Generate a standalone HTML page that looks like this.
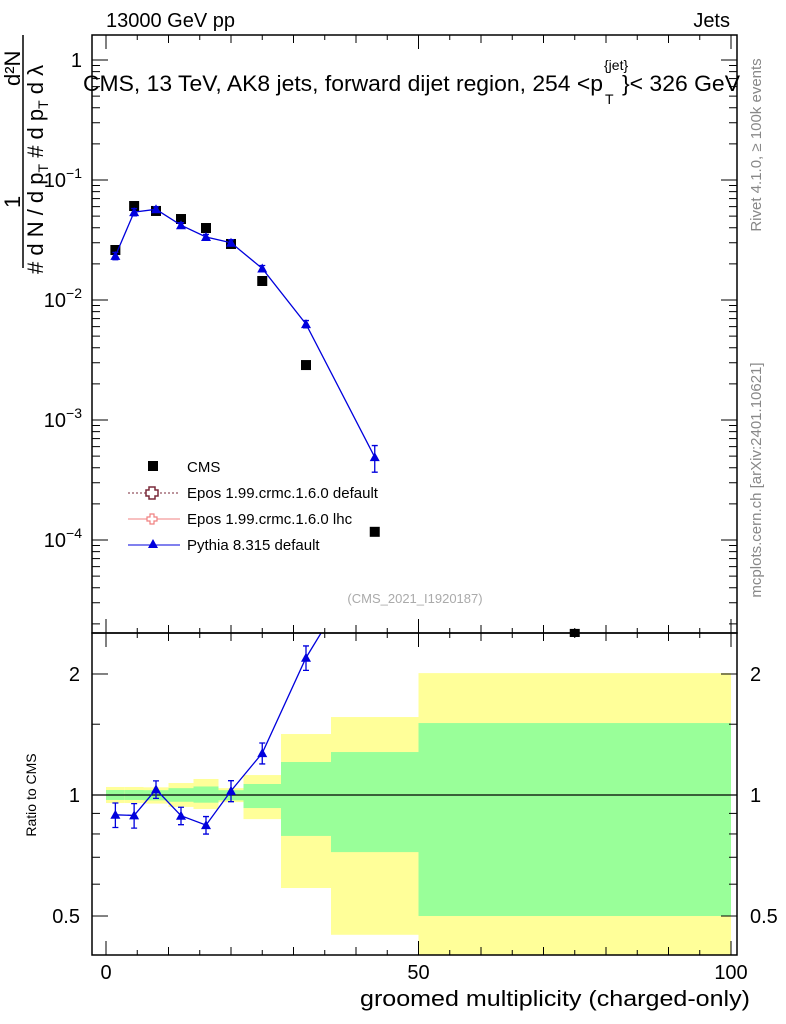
<!DOCTYPE html>
<html><head><meta charset="utf-8">
<style>
html,body{margin:0;padding:0;background:#fff;}
svg{display:block;font-family:"Liberation Sans",sans-serif;}
</style></head>
<body>
<svg id="chart" width="786" height="1024" viewBox="0 0 786 1024" xmlns="http://www.w3.org/2000/svg">
<g id="bands"></g>
<g id="marks"></g>
<g id="axes"></g>
<text x="106" y="27" font-size="20">13000 GeV pp</text>
<text x="730" y="27" font-size="20" text-anchor="end">Jets</text>
<text x="415" y="603" font-size="13" fill="#aaa" text-anchor="middle">(CMS_2021_I1920187)</text>
<text transform="translate(761,145) rotate(-90)" font-size="15" fill="#888" text-anchor="middle">Rivet 4.1.0, ≥ 100k events</text>
<text transform="translate(761,480) rotate(-90)" font-size="15" fill="#888" text-anchor="middle">mcplots.cern.ch [arXiv:2401.10621]</text>
<g>
<text x="83" y="91" font-size="22" textLength="520" lengthAdjust="spacingAndGlyphs">CMS, 13 TeV, AK8 jets, forward dijet region, 254 &lt;p</text>
<text x="604" y="70" font-size="14">{jet}</text>
<text x="605" y="104" font-size="14">T</text>
<text x="622" y="91" font-size="22" textLength="118" lengthAdjust="spacingAndGlyphs">}&lt; 326 GeV</text>
</g>
<g font-size="22">
<line x1="23" y1="35" x2="23" y2="268" stroke="#000" stroke-width="1.5"/>
<text transform="translate(20,208) rotate(-90)">1</text>
<text transform="translate(20,86) rotate(-90)">d²N</text>
<text transform="translate(43,274) rotate(-90)"># d N / d p<tspan font-size="14" dy="5">T</tspan><tspan dy="-5"> # d p</tspan><tspan font-size="14" dy="5">T</tspan><tspan dy="-5">  d λ</tspan></text>
</g>
<text transform="translate(36,795) rotate(-90)" font-size="14" text-anchor="middle">Ratio to CMS</text>
<text x="360" y="1006" font-size="22" textLength="390" lengthAdjust="spacingAndGlyphs">groomed multiplicity (charged-only)</text>
<g font-size="15">
<rect x="148" y="461" width="10" height="10" fill="#000"/>
<text x="187" y="472">CMS</text>
<line x1="128" y1="493" x2="180" y2="493" stroke="#7a2a3a" stroke-dasharray="2,2"/>
<path d="M149,487h6v3h3v6h-3v3h-6v-3h-3v-6h3z" fill="#fff" stroke="#7a2a3a" stroke-width="1.5"/>
<text x="187" y="498">Epos 1.99.crmc.1.6.0 default</text>
<line x1="128" y1="519" x2="180" y2="519" stroke="#f08080"/>
<path d="M150,514h4v3h3v4h-3v3h-4v-3h-3v-4h3z" fill="#fff" stroke="#f08080" stroke-width="1.2"/>
<text x="187" y="524">Epos 1.99.crmc.1.6.0 lhc</text>
<line x1="128" y1="545" x2="180" y2="545" stroke="#0000dd"/>
<path d="M153,539l5,9h-10z" fill="#0000dd"/>
<text x="187" y="550">Pythia 8.315 default</text>
</g>
</svg>
<script>
const binEdges=[0,3,6,10,14,18,22,28,36,50,100];
const cmsValues=[0.0261,0.0607,0.0552,0.0473,0.0398,0.0293,0.0144,0.00287,0.000117,0.0000165];
const pythiaValues=[0.0233,0.054,0.057,0.042,0.0335,0.030,0.0183,0.0063,0.00049];
const pythiaRelErr=[0.07,0.07,0.05,0.05,0.05,0.06,0.06,0.07,0.25];
const yellowHi=[1.047,1.047,1.045,1.071,1.096,1.040,1.121,1.418,1.563,2.01];
const yellowLo=[0.955,0.955,0.952,0.934,0.923,0.960,0.871,0.587,0.449,0.35];
const greenHi=[1.029,1.029,1.028,1.040,1.050,1.028,1.065,1.208,1.279,1.51];
const greenLo=[0.972,0.972,0.970,0.962,0.957,0.970,0.928,0.791,0.721,0.50];
const xTicksMajor=[0,50,100];
const yTicksMain=[0,-1,-2,-3,-4];
const ratioTicks=[0.5,1,2];

const NS="http://www.w3.org/2000/svg";
const L=92,R=737,T=35,MB=633,B=955;
const xs=v=>106+v*6.25;
const ys=v=>60-120*Math.log10(v);
const yr=v=>795-402*Math.log10(v);
const clampR=y=>Math.max(MB,Math.min(B,y));
function mk(tag,attrs,parent){const e=document.createElementNS(NS,tag);for(const k in attrs)e.setAttribute(k,attrs[k]);parent.appendChild(e);return e;}
const bands=document.getElementById('bands'),marks=document.getElementById('marks'),axes=document.getElementById('axes');
const centers=binEdges.slice(0,-1).map((e,i)=>(e+binEdges[i+1])/2);

for(let i=0;i<cmsValues.length;i++){
  const x0=xs(binEdges[i]),x1=xs(binEdges[i+1]);
  const yb=mk('rect',{x:x0,y:clampR(yr(yellowHi[i])),width:x1-x0,height:clampR(yr(yellowLo[i]))-clampR(yr(yellowHi[i])),fill:'#ffff99'},bands);
  
  
  const gb=mk('rect',{x:x0,y:clampR(yr(greenHi[i])),width:x1-x0,height:clampR(yr(greenLo[i]))-clampR(yr(greenHi[i])),fill:'#99ff99'},bands);
  
  
}
const one=mk('line',{x1:L,x2:R,y1:yr(1),y2:yr(1),stroke:'#000','stroke-width':1.2},bands);



const defs=mk('defs',{},marks);
const cp=mk('clipPath',{id:'cm'},defs);mk('rect',{x:L,y:T,width:R-L,height:MB-T+4},cp);
const cp2=mk('clipPath',{id:'cr'},defs);mk('rect',{x:L,y:MB,width:R-L,height:B-MB},cp2);
const gm=mk('g',{'clip-path':'url(#cm)'},marks);
const gr=mk('g',{'clip-path':'url(#cr)'},marks);

cmsValues.forEach((v,i)=>{
  const r=mk('rect',{x:xs(centers[i])-5,y:ys(v)-5,width:10,height:10,fill:'#000'},gm);
  
  
});
let d='';
pythiaValues.forEach((v,i)=>{d+=(i?'L':'M')+xs(centers[i])+','+ys(v);});
const pl=mk('path',{d:d,fill:'none',stroke:'#0000dd','stroke-width':1.3},gm);


pythiaValues.forEach((v,i)=>{
  const x=xs(centers[i]),y=ys(v);
  const e1=ys(v*(1+pythiaRelErr[i])),e2=ys(v*(1-pythiaRelErr[i]));
  mk('path',{d:`M${x},${e1}V${e2}M${x-3},${e1}h6M${x-3},${e2}h6`,stroke:'#0000dd','stroke-width':1.3},gm);
  const t=mk('path',{d:`M${x},${y-5}l5,9h-10z`,fill:'#0000dd'},gm);
  
  
});
let dr='';
pythiaValues.forEach((v,i)=>{dr+=(i?'L':'M')+xs(centers[i])+','+yr(v/cmsValues[i]);});
const rl=mk('path',{d:dr,fill:'none',stroke:'#0000dd','stroke-width':1.3},gr);


pythiaValues.forEach((v,i)=>{
  const r=v/cmsValues[i],x=xs(centers[i]),y=yr(r);
  const e1=yr(r*(1+pythiaRelErr[i])),e2=yr(r*(1-pythiaRelErr[i]));
  mk('path',{d:`M${x},${e1}V${e2}M${x-3},${e1}h6M${x-3},${e2}h6`,stroke:'#0000dd','stroke-width':1.3},gr);
  const t=mk('path',{d:`M${x},${y-5}l5,9h-10z`,fill:'#0000dd'},gr);
  
  
});

mk('rect',{x:L,y:T,width:R-L,height:MB-T,fill:'none',stroke:'#000','stroke-width':1.5},axes);
mk('rect',{x:L,y:MB,width:R-L,height:B-MB,fill:'none',stroke:'#000','stroke-width':1.5},axes);
for(let v=0;v<=100;v+=5){
  const x=xs(v),len=v%50===0?14:(v%10===0?8:5);
  mk('line',{x1:x,x2:x,y1:B,y2:B-len,stroke:'#000'},axes);
  mk('line',{x1:x,x2:x,y1:T,y2:T+len,stroke:'#000'},axes);
  mk('line',{x1:x,x2:x,y1:MB,y2:MB-len,stroke:'#000'},axes);
  mk('line',{x1:x,x2:x,y1:MB,y2:MB+len,stroke:'#000'},axes);
}
xTicksMajor.forEach(v=>{
  const t=mk('text',{x:xs(v),y:979,'font-size':20,'text-anchor':'middle'},axes);t.textContent=v;
  
  
});
for(let e=0;e>=-5;e--){
  for(let m=1;m<10;m++){
    const y=ys(m*Math.pow(10,e));if(y<T||y>MB)continue;
    const len=m===1?16:8;
    mk('line',{x1:L,x2:L+len,y1:y,y2:y,stroke:'#000'},axes);
    mk('line',{x1:R,x2:R-len,y1:y,y2:y,stroke:'#000'},axes);
  }
}
yTicksMain.forEach(e=>{
  const t=mk('text',{x:82,y:ys(Math.pow(10,e))+7,'font-size':20,'text-anchor':'end'},axes);
  if(e===0)t.textContent='1';else{t.textContent='10';const s=mk('tspan',{dy:-9,'font-size':14},t);s.textContent=String(e).replace('-','−');}
  
  
});
[0.5,0.6,0.7,0.8,0.9,1,1.5,2].forEach(v=>{
  const y=yr(v),len=ratioTicks.includes(v)?16:8;
  mk('line',{x1:L,x2:L+len,y1:y,y2:y,stroke:'#000'},axes);
  mk('line',{x1:R,x2:R-len,y1:y,y2:y,stroke:'#000'},axes);
});
ratioTicks.forEach(v=>{
  const t=mk('text',{x:80,y:yr(v)+7,'font-size':20,'text-anchor':'end'},axes);t.textContent=v;
  
  
  const t2=mk('text',{x:750,y:yr(v)+7,'font-size':20},axes);t2.textContent=v;
  
  
});
</script>
</body></html>
